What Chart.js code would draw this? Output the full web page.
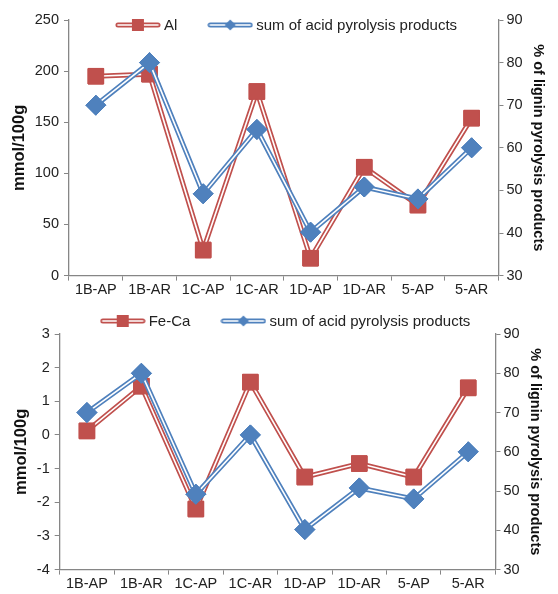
<!DOCTYPE html>
<html>
<head>
<meta charset="utf-8">
<script src="https://cdn.jsdelivr.net/npm/chart.js@4.4.0/dist/chart.umd.min.js"></script>
<style>
  body { margin: 0; background: #fff; }
  #wrap { position: relative; width: 558px; height: 594px; }
  .panel { position: absolute; left: 0; width: 558px; }
</style>
</head>
<body>
<div id="wrap">
  <div class="panel" style="top:0;height:300px"><canvas id="topChart"></canvas></div>
  <div class="panel" style="top:300px;height:294px"><canvas id="bottomChart"></canvas></div>
</div>
<script>
// samples on the x axis
const categories = ['1B-AP', '1B-AR', '1C-AP', '1C-AR', '1D-AP', '1D-AR', '5-AP', '5-AR'];

// left axis values (mmol/100g)
const alValues = [195, 197, 25, 180, 17, 106, 69, 154];
const feCaValues = [0.12, 1.45, -2.2, 1.57, -1.25, -0.85, -1.25, 1.4];

// right axis values (% of lignin pyrolysis products)
const acidSum = [70, 80, 49.2, 64.3, 40.2, 50.8, 48, 60];

const RED = '#C0504D';
const BLUE = '#4F81BD';
const AXIS = '#868686';
const FONT = "'Liberation Sans', Arial, sans-serif";

Chart.defaults.font.family = FONT;
Chart.defaults.color = '#222';

// white centre line through each series, then markers on top again
const doubleLine = {
  id: 'doubleLine',
  afterDatasetDraw(chart, args) {
    const ctx = chart.ctx;
    const pts = args.meta.data;
    ctx.save();
    ctx.strokeStyle = '#fff';
    ctx.lineWidth = 1.6;
    ctx.beginPath();
    pts.forEach(function (p, i) {
      if (i === 0) ctx.moveTo(p.x, p.y); else ctx.lineTo(p.x, p.y);
    });
    ctx.stroke();
    ctx.restore();
    pts.forEach(function (p) { p.draw(ctx, chart.chartArea); });
  }
};

function legendIcon(color, shape) {
  const c = document.createElement('canvas');
  c.width = 46; c.height = 16;
  const g = c.getContext('2d');
  g.lineCap = 'round';
  g.strokeStyle = color; g.lineWidth = 5;
  g.beginPath(); g.moveTo(3, 8); g.lineTo(43, 8); g.stroke();
  g.strokeStyle = '#fff'; g.lineWidth = 1.6;
  g.beginPath(); g.moveTo(3, 8); g.lineTo(43, 8); g.stroke();
  g.fillStyle = color;
  if (shape === 'rect') {
    g.fillRect(17, 2, 12, 12);
  } else {
    g.beginPath();
    g.moveTo(23, 2.5); g.lineTo(28.5, 8); g.lineTo(23, 13.5); g.lineTo(17.5, 8);
    g.closePath(); g.fill();
  }
  return c;
}

// legend drawn in one row at a given height (may sit inside the plot)
const rowLegend = {
  id: 'rowLegend',
  afterDraw(chart, args, opts) {
    const ctx = chart.ctx;
    const iconW = 46, gapIcon = 3, gapItem = 30;
    ctx.save();
    ctx.font = '15px ' + FONT;
    ctx.textBaseline = 'middle';
    ctx.fillStyle = '#222';
    const items = chart.data.datasets.map(function (ds, i) {
      return { text: ds.label, icon: opts.icons[i], w: iconW + gapIcon + ctx.measureText(ds.label).width };
    });
    let total = gapItem * (items.length - 1);
    items.forEach(function (it) { total += it.w; });
    let x = opts.centerX - total / 2;
    items.forEach(function (it) {
      ctx.drawImage(it.icon, x, opts.y - 8);
      ctx.fillText(it.text, x + iconW + gapIcon, opts.y + 1);
      x += it.w + gapItem;
    });
    ctx.restore();
  }
};

function makeChart(id, leftLabel, leftValues, leftMin, leftMax, leftStep, legendX, legendY, padding) {
  const icons = [legendIcon(RED, 'rect'), legendIcon(BLUE, 'diamond')];
  return new Chart(document.getElementById(id), {
    type: 'line',
    data: {
      labels: categories,
      datasets: [{
        label: leftLabel,
        data: leftValues,
        yAxisID: 'y',
        borderColor: RED,
        borderWidth: 5,
        pointStyle: 'rect',
        pointRadius: 11,
        pointBackgroundColor: RED,
        pointBorderColor: RED,
        pointBorderWidth: 1,
        tension: 0,
        order: 2
      }, {
        label: 'sum of acid pyrolysis products',
        data: acidSum,
        yAxisID: 'y1',
        borderColor: BLUE,
        borderWidth: 5,
        pointStyle: 'rectRot',
        pointRadius: 10,
        pointBackgroundColor: BLUE,
        pointBorderColor: BLUE,
        pointBorderWidth: 1,
        tension: 0,
        order: 1
      }]
    },
    options: {
      responsive: true,
      maintainAspectRatio: false,
      animation: false,
      layout: { padding: padding },
      plugins: {
        tooltip: { enabled: false },
        legend: { display: false },
        rowLegend: { icons: icons, centerX: legendX, y: legendY }
      },
      scales: {
        x: {
          offset: true,
          grid: { offset: true, drawOnChartArea: false, tickLength: 5, color: AXIS },
          border: { color: AXIS, width: 1.3 },
          ticks: { font: { size: 14.5 }, color: '#222', padding: 1, maxRotation: 0 }
        },
        y: {
          position: 'left',
          min: leftMin, max: leftMax,
          grid: { drawOnChartArea: false, tickLength: 5, color: AXIS },
          border: { color: AXIS, width: 1.3 },
          ticks: { stepSize: leftStep, font: { size: 14.5 }, color: '#222', padding: 5 },
          title: { display: true, text: 'mmol/100g', font: { size: 16.5, weight: 'bold' }, color: '#111', padding: { top: 4, bottom: 0 } }
        },
        y1: {
          position: 'right',
          min: 30, max: 90,
          grid: { drawOnChartArea: false, tickLength: 5, color: AXIS },
          border: { color: AXIS, width: 1.3 },
          ticks: { stepSize: 10, font: { size: 14.5 }, color: '#222', padding: 3 },
          title: { display: true, text: '% of lignin pyrolysis products', font: { size: 14.5, weight: 'bold' }, color: '#111', padding: 4 }
        }
      }
    },
    plugins: [doubleLine, rowLegend]
  });
}

makeChart('topChart', 'Al', alValues, 0, 250, 50, 286, 25, { left: 6, right: 7, top: 20, bottom: 0 });
makeChart('bottomChart', 'Fe-Ca', feCaValues, -4, 3, 1, 285, 21, { left: 8, right: 10, top: 34, bottom: 0 });
</script>
</body>
</html>
